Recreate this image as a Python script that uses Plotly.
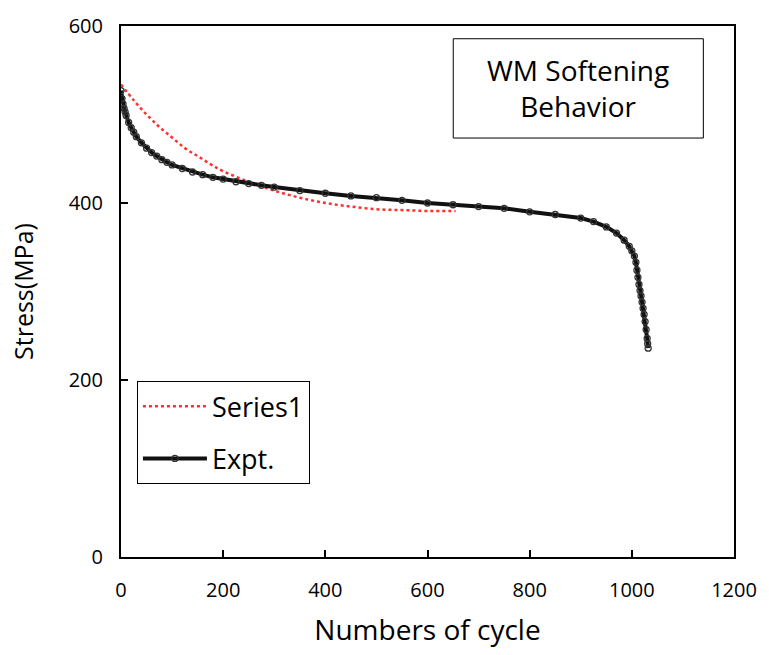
import plotly.graph_objects as go

# Experimental data (cycles, stress MPa)
expt_cycles = [0, 2, 4, 6, 8, 10, 15, 20, 25, 30, 40, 50, 60, 70, 80, 90, 100, 120, 140, 160,
               180, 200, 225, 250, 275, 300, 350, 400, 450, 500, 550, 600, 650, 700, 750, 800,
               850, 900, 925, 950, 970, 985, 995, 1000, 1005, 1008, 1010, 1012, 1014, 1016, 1018,
               1020, 1022, 1024, 1026, 1028, 1030, 1031, 1032]
expt_stress = [527, 518, 512, 507, 503, 499, 491, 485, 480, 475, 468, 462, 457, 453, 449, 446, 443,
               439, 435, 432, 429, 427, 424, 422, 420, 418, 414, 411, 408, 406, 403, 400, 398, 396,
               394, 390, 387, 383, 379, 373, 366, 358, 351, 346, 340, 333, 324, 316, 308, 301, 295,
               288, 281, 274, 266, 257, 247, 241, 236]

# Model fit (Series1)
fit_cycles = [0, 25, 50, 75, 100, 125, 150, 175, 200, 250, 300, 350, 400, 450, 500, 550, 600, 655]
fit_stress = [534, 516, 500, 486, 474, 462, 453, 444, 436, 424, 414, 406, 400, 396, 393, 392, 391, 391]

x_ticks = [0, 200, 400, 600, 800, 1000, 1200]
y_ticks = [0, 200, 400, 600]

FONT = "Open Sans"

fig = go.Figure()
fig.add_trace(go.Scatter(
    x=fit_cycles, y=fit_stress, mode="lines", name="Series1",
    line=dict(color="#ff3030", width=2.5, dash="dot", shape="spline"),
    legendgroup="a",
))
fig.add_trace(go.Scatter(
    x=expt_cycles, y=expt_stress, mode="lines+markers", name="Expt.",
    line=dict(color="#111111", width=4),
    marker=dict(symbol="circle-open", size=6, color="#333333", line=dict(width=1.3)),
    legendgroup="b",
))

axis_common = dict(
    showline=True, linecolor="black", linewidth=2, mirror=True,
    ticks="inside", ticklen=7, tickwidth=2, tickcolor="black",
    showgrid=False, zeroline=False,
    tickfont=dict(family=FONT, size=20, color="black"),
)

fig.update_layout(
    width=769, height=655,
    margin=dict(l=121, r=27, t=22, b=98),
    paper_bgcolor="white", plot_bgcolor="white",
    xaxis=dict(range=[0, 1200], tickvals=x_ticks, ticklabelstandoff=14,
               title=dict(text="Numbers of cycle", font=dict(family=FONT, size=28, color="black"),
                          standoff=18),
               **axis_common),
    yaxis=dict(range=[0, 600], tickvals=y_ticks, ticklabelstandoff=12,
               title=dict(text="Stress(MPa)", font=dict(family=FONT, size=25, color="black"),
                          standoff=28),
               **axis_common),
    legend=dict(x=0.026, y=0.331, xanchor="left", yanchor="top",
                bordercolor="black", borderwidth=1, bgcolor="white",
                font=dict(family=FONT, size=27, color="black"),
                tracegroupgap=14, itemwidth=64),
    showlegend=True,
)

fig.add_shape(type="rect", xref="paper", yref="paper",
              x0=0.542, x1=0.950, y0=0.789, y1=0.976,
              line=dict(color="black", width=1), fillcolor="white", layer="above")
fig.add_annotation(xref="paper", yref="paper", x=0.746, y=0.8825,
                   xanchor="center", yanchor="middle",
                   text="WM Softening<br>Behavior", showarrow=False,
                   font=dict(family=FONT, size=28, color="black"), align="center")

fig.write_html("out.html")
